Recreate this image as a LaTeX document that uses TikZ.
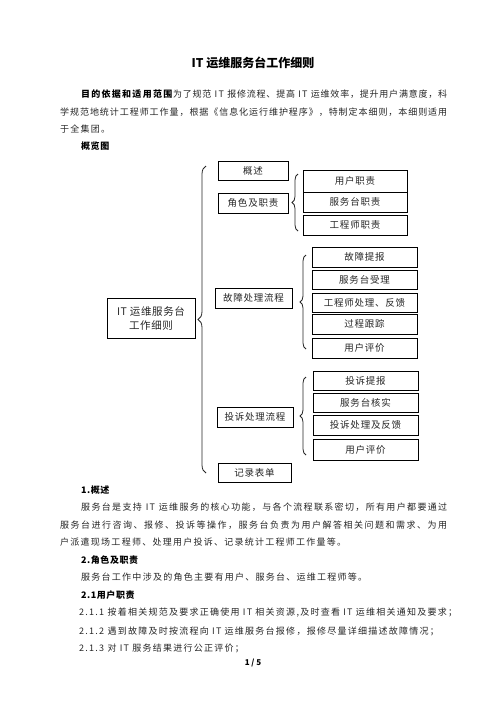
\documentclass[tikz,border=0pt]{standalone}
\usepackage{fontspec}
\setmainfont{Noto Sans CJK SC}
\usetikzlibrary{decorations.pathreplacing}
\def\jsp#1{\ifx#1\relax\else\hskip 0pt plus 1fil #1\expandafter\jsp\fi}
\def\ITw{\mbox{\hspace{2.5pt}IT\hspace{2.5pt}}}
\begin{document}
\begin{tikzpicture}[x=1pt,y=-1pt]
\useasboundingbox[fill=white] (0,0) rectangle (496,702);
\tikzset{
  body/.style={anchor=west, inner sep=0pt, text=black!85,
    font=\fontsize{9}{11}\selectfont\addfontfeature{LetterSpace=14}},
  head/.style={body, font=\fontsize{9}{11}\selectfont\bfseries\addfontfeature{LetterSpace=6}, text=black},
  box/.style={draw=black, line width=0.8pt, inner sep=0pt, text=black!85,
    font=\fontsize{9.5}{11}\selectfont\addfontfeature{LetterSpace=8}},
  brc/.style={draw=black!85, line width=0.8pt, decorate},
}
% title
\node[font=\fontsize{12}{14}\selectfont\bfseries, inner sep=0pt] (title) at (253,63) {IT 运维服务台工作细则};
% intro paragraph
\node[body] (p1) at (81,94) {\hbox to 366pt{{\bfseries\color{black}目的依据和适用范围}\jsp 为了规范\ITw 报修流程、提高\ITw 运维效率，提升用户满意度，科\relax}};
\node[body] (p2) at (60,112) {\hbox to 387pt{学\jsp 规范地统计工程师工作量，根据《信息化运行维护程序》，特制定本细则，本细则适用\relax}};
\node[body] (p3) at (60,129) {于全集团。};
\node[head] (h0) at (81,146) {概览图};

% diagram boxes
\node[box, minimum width=88pt, minimum height=40pt, align=center,
  font=\fontsize{10.5}{14}\selectfont\addfontfeature{LetterSpace=6}] (main) at (151,318) {IT 运维服务台\\工作细则};
\node[box, minimum width=70pt, minimum height=19pt] (gs) at (253,170.5) {概述};
\node[box, minimum width=70pt, minimum height=20pt] (js) at (253,203) {角色及职责};
\node[box, minimum width=104pt, minimum height=22pt] (yh) at (355,181) {用户职责};
\node[box, minimum width=104pt, minimum height=20pt] (fw) at (355,202) {服务台职责};
\node[box, minimum width=104pt, minimum height=20pt] (gc) at (355,225) {工程师职责};
\node[box, minimum width=77pt, minimum height=20pt] (gz) at (253.5,298) {故障处理流程};
\node[box, minimum width=105pt, minimum height=20pt] (f1) at (364.5,257) {故障提报};
\node[box, minimum width=105pt, minimum height=19pt] (f2) at (364.5,279.5) {服务台受理};
\node[box, minimum width=105pt, minimum height=19pt] (f3) at (364.5,302.5) {工程师处理、反馈};
\node[box, minimum width=105pt, minimum height=20pt] (f4) at (364.5,324) {过程跟踪};
\node[box, minimum width=105pt, minimum height=20pt] (f5) at (364.5,348) {用户评价};
\node[box, minimum width=76pt, minimum height=20pt] (ts) at (255,417) {投诉处理流程};
\node[box, minimum width=105pt, minimum height=19pt] (t1) at (365.5,380.5) {投诉提报};
\node[box, minimum width=105pt, minimum height=19pt] (t2) at (365.5,402.5) {服务台核实};
\node[box, minimum width=105pt, minimum height=20pt] (t3) at (365.5,425) {投诉处理及反馈};
\node[box, minimum width=105pt, minimum height=21pt] (t4) at (365.5,449.5) {用户评价};
\node[box, minimum width=73pt, minimum height=19pt] (jl) at (254.5,472.5) {记录表单};

% braces
\draw[brc, decoration={brace, amplitude=8pt}] (206,473) -- (206,166);
\draw[brc, decoration={brace, amplitude=6pt}] (298,231) -- (298,174);
\draw[brc, decoration={brace, amplitude=6pt}] (306,349) -- (306,255);
\draw[brc, decoration={brace, amplitude=6pt}] (306,455) -- (306,377);

% lower text
\node[head] (h1) at (81,490) {1.概述};
\node[body] (q1) at (81,507) {\hbox to 366pt{服\jsp 务台是支持\ITw 运维服务的核心功能，与各个流程联系密切，所有用户都要通过\relax}};
\node[body] (q2) at (60,525) {\hbox to 387pt{服\jsp 务台进行咨询、报修、投诉等操作，服务台负责为用户解答相关问题和需求、为用\relax}};
\node[body] (q3) at (60,542) {户派遣现场工程师、处理用户投诉、记录统计工程师工作量等。};
\node[head] (h2) at (81,560) {2.角色及职责};
\node[body] (q4) at (81,577) {服务台工作中涉及的角色主要有用户、服务台、运维工程师等。};
\node[head] (h3) at (81,595) {2.1用户职责};
\node[body] (r1) at (79,613) {2.1.1 按着相关规范及要求正确使用 IT 相关资源,及时查看 IT 运维相关通知及要求；};
\node[body] (r2) at (79,631) {2.1.2 遇到故障及时按流程向 IT 运维服务台报修，报修尽量详细描述故障情况；};
\node[body] (r3) at (79,648) {2.1.3 对 IT 服务结果进行公正评价；};
\node[font=\fontsize{8}{10}\selectfont\bfseries, inner sep=0pt] (pg) at (253,663) {1 / 5};
\end{tikzpicture}
\end{document}
